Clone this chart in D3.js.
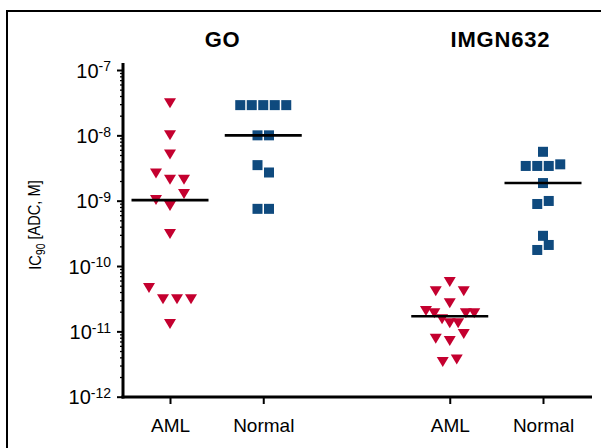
<!DOCTYPE html>
<html>
<head>
<meta charset="utf-8">
<script src="https://cdn.jsdelivr.net/npm/d3@7"></script>
<style>
  html, body { margin: 0; padding: 0; background: #fff; }
  svg { display: block; font-family: "Liberation Sans", Arial, sans-serif; }
</style>
</head>
<body>
<svg id="chart" width="601" height="448"></svg>
<script>
// ---------------- data ----------------
const panelTitles = ["GO", "IMGN632"];
const categoryKeys = ["GO-AML", "GO-Normal", "gap", "IMGN-AML", "IMGN-Normal"];
const categoryLabels = ["AML", "Normal", "", "AML", "Normal"];
const yTickValues = [1e-12, 1e-11, 1e-10, 1e-9, 1e-8, 1e-7];
const yTickExponents = ["-12", "-11", "-10", "-9", "-8", "-7"];

// IC90 values (M)
const goAML = [3.1e-8, 1.0e-8, 5.1e-9, 2.6e-9, 2.1e-9, 2.1e-9, 1.26e-9, 1.02e-9, 8.3e-10,
               3.1e-10, 4.6e-11, 3.1e-11, 3.1e-11, 3.1e-11, 1.3e-11];
const goAMLJitter = [0, 0, 0, -1, 0, 1, 1, -1, 0, 0, -1.5, -0.5, 0.5, 1.5, 0];

const goNormal = [2.9e-8, 2.9e-8, 2.9e-8, 2.9e-8, 2.9e-8, 1.0e-8, 1.0e-8, 3.5e-9, 2.7e-9, 7.5e-10, 7.5e-10];
const goNormalJitter = [-2, -1, 0, 1, 2, -0.5, 0.5, -0.5, 0.5, -0.5, 0.5];

const imgnAML = [5.7e-11, 4.1e-11, 4.1e-11, 2.7e-11, 2.05e-11, 1.9e-11, 1.9e-11, 1.9e-11,
                 1.53e-11, 1.33e-11, 1.33e-11, 9.1e-12, 7.7e-12, 7.1e-12, 3.4e-12, 3.7e-12];
const imgnAMLJitter = [0, -1, 1, 0, -1.7, -1.1, 1.15, 1.75, -0.55, 0, 0.6, 1, -1, 0, -0.5, 0.5];

const imgnNormal = [5.6e-9, 3.4e-9, 3.4e-9, 3.4e-9, 3.6e-9, 1.86e-9, 9.9e-10, 8.9e-10, 2.9e-10, 2.1e-10, 1.76e-10];
const imgnNormalJitter = [0, -1.5, -0.5, 0.5, 1.5, 0, 0.5, -0.5, 0, 0.5, -0.5];

const series = [
  { key: "GO-AML", values: goAML, jitter: goAMLJitter, shape: "tri" },
  { key: "GO-Normal", values: goNormal, jitter: goNormalJitter, shape: "sq" },
  { key: "IMGN-AML", values: imgnAML, jitter: imgnAMLJitter, shape: "tri" },
  { key: "IMGN-Normal", values: imgnNormal, jitter: imgnNormalJitter, shape: "sq" }
];

// ---------------- styles ----------------
const RED = "#c4002f";
const BLUE = "#0f4a7e";
const triUnit = 14, sqUnit = 11.5;

const svg = d3.select("#chart");

// border
svg.append("rect")
  .attr("x", 7).attr("y", 11).attr("width", 620).attr("height", 460)
  .attr("fill", "none").attr("stroke", "#000").attr("stroke-width", 2);

const x = d3.scalePoint().domain(categoryKeys).range([170, 543]);
const y = d3.scaleLog().domain([1e-12, 1e-7]).range([396.7, 70]);
const axisX0 = 123, axisY0 = 397;

// minor y ticks
const minorTicks = [];
for (let e = -12; e < -7; e++) for (let m = 2; m <= 9; m++) minorTicks.push(m * Math.pow(10, e));

const gMinor = svg.append("g").attr("transform", `translate(${axisX0},0)`)
  .call(d3.axisLeft(y).tickValues(minorTicks).tickFormat("").tickSize(3).tickSizeOuter(0));
gMinor.select(".domain").remove();
gMinor.selectAll("line").attr("stroke", "#000").attr("stroke-width", 1.3);

// major y ticks
const gY = svg.append("g").attr("transform", `translate(${axisX0},0)`)
  .call(d3.axisLeft(y).tickValues(yTickValues).tickSize(6).tickFormat(() => ""));
gY.select(".domain").remove();
gY.selectAll("line").attr("stroke", "#000").attr("stroke-width", 2);
gY.selectAll(".tick text").remove();
gY.selectAll(".tick").append("text")
  .attr("x", -12).attr("dy", "0.36em")
  .attr("text-anchor", "end")
  .attr("fill", "#000")
  .style("font-size", "20px")
  .each(function(d, i) {
    const t = d3.select(this);
    t.append("tspan").text("10");
    t.append("tspan").attr("dy", "-0.45em").style("font-size", "14px").text(yTickExponents[i]);
  });

// y axis line
svg.append("line")
  .attr("x1", axisX0).attr("x2", axisX0).attr("y1", 63).attr("y2", axisY0 + 1.5)
  .attr("stroke", "#000").attr("stroke-width", 3);

// x axis
const gX = svg.append("g").attr("transform", `translate(0,${axisY0})`)
  .call(d3.axisBottom(x).tickValues(categoryKeys.filter(k => k !== "gap"))
    .tickSize(7).tickFormat(k => categoryLabels[categoryKeys.indexOf(k)]));
gX.select(".domain").remove();
gX.selectAll("line").attr("stroke", "#000").attr("stroke-width", 2);
gX.selectAll("text").attr("fill", "#000").attr("dy", "1.3em")
  .style("font-size", "19px").style("font-family", "Liberation Sans, Arial, sans-serif");
svg.append("line")
  .attr("x1", axisX0 - 1.5).attr("x2", 592).attr("y1", axisY0).attr("y2", axisY0)
  .attr("stroke", "#000").attr("stroke-width", 3);

// y label
svg.append("text")
  .attr("transform", "translate(41,225) rotate(-90) scale(0.86,1)")
  .attr("text-anchor", "middle")
  .attr("fill", "#000")
  .style("font-size", "17px")
  .call(t => {
    t.append("tspan").text("IC");
    t.append("tspan").attr("dy", "0.3em").style("font-size", "12px").text("90");
    t.append("tspan").attr("dy", "-0.3em").text(" [ADC, M]");
  });

// panel titles
const titleX = [ (x("GO-AML") + x("GO-Normal")) / 2 + 6, (x("IMGN-AML") + x("IMGN-Normal")) / 2 + 4 ];
svg.selectAll(".ptitle").data(panelTitles).join("text")
  .attr("class", "ptitle")
  .attr("x", (d, i) => titleX[i]).attr("y", 46.5)
  .attr("text-anchor", "middle")
  .attr("fill", "#000")
  .style("font-size", "22px").style("font-weight", "bold").style("letter-spacing", "0.8px")
  .text(d => d);

// points
const triPath = "M-6,-5L6,-5L0,5Z";
series.forEach(s => {
  const g = svg.append("g");
  const pts = s.values.map((v, i) => ({ v, j: s.jitter[i] }));
  if (s.shape === "tri") {
    g.selectAll("path").data(pts).join("path")
      .attr("d", triPath)
      .attr("transform", d => `translate(${x(s.key) + d.j * triUnit},${y(d.v)})`)
      .attr("fill", RED);
  } else {
    g.selectAll("rect").data(pts).join("rect")
      .attr("x", d => x(s.key) + d.j * sqUnit - 5)
      .attr("y", d => y(d.v) - 5)
      .attr("width", 10).attr("height", 10)
      .attr("fill", BLUE);
  }
  // median line
  const med = Math.pow(10, d3.median(s.values.map(Math.log10)));
  svg.append("line")
    .attr("x1", x(s.key) - 38.5).attr("x2", x(s.key) + 38.5)
    .attr("y1", y(med)).attr("y2", y(med))
    .attr("stroke", "#000").attr("stroke-width", 2.6);
});
</script>
</body>
</html>
